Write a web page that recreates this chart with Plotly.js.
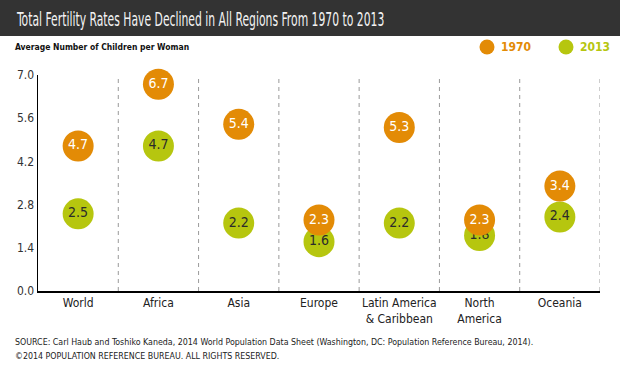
<!DOCTYPE html>
<html>
<head>
<meta charset="utf-8">
<script src="https://cdn.plot.ly/plotly-3.0.1.min.js"></script>
<style>
html,body{margin:0;padding:0;background:#fff;}
#chart{width:620px;height:370px;}
text, tspan {font-stretch:condensed;}
</style>
</head>
<body>
<div id="chart"></div>
<script>
const regions = ['World', 'Africa', 'Asia', 'Europe', 'Latin America<br>& Caribbean', 'North<br>America', 'Oceania'];
const tfr1970 = [4.7, 6.7, 5.4, 2.3, 5.3, 2.3, 3.4];
const tfr2013 = [2.5, 4.7, 2.2, 1.6, 2.2, 1.8, 2.4];
const yTicks = [0, 1.4, 2.8, 4.2, 5.6, 7.0];
const seriesNames = ['1970', '2013'];

const ORANGE = '#E38B06';
const GREEN = '#B6C60F';
const NARROW = '"DejaVu Sans", sans-serif';
const idx = regions.map((_, i) => i);

const trace2013 = {
  x: idx, y: tfr2013, mode: 'markers+text', type: 'scatter',
  marker: {size: 31, color: GREEN},
  text: tfr2013.map(v => v.toFixed(1)), textposition: 'middle center',
  textfont: {family: NARROW, size: 14, color: '#2b2b2b'},
  hoverinfo: 'none', showlegend: false, cliponaxis: false
};
const trace1970 = {
  x: idx, y: tfr1970, mode: 'markers+text', type: 'scatter',
  marker: {size: 31, color: ORANGE},
  text: tfr1970.map(v => v.toFixed(1)), textposition: 'middle center',
  textfont: {family: NARROW, size: 14, color: '#ffffff'},
  hoverinfo: 'none', showlegend: false, cliponaxis: false
};

const shapes = [];
// title bar
shapes.push({type: 'rect', xref: 'paper', yref: 'paper', xsizemode: 'pixel', ysizemode: 'pixel',
  xanchor: 0, yanchor: 1, x0: -45, x1: 600, y0: 39, y1: 85, fillcolor: '#333333', line: {width: 0}, layer: 'below'});
// dashed dividers
for (let i = 0; i < regions.length; i++) {
  shapes.push({type: 'line', xref: 'x', yref: 'y', x0: i + 0.5, x1: i + 0.5, y0: 0, y1: 7.0,
    line: {color: '#9a9a9a', width: 1, dash: '4px,4px'}, layer: 'below'});
}
// legend dots
const legendColors = [ORANGE, GREEN];
const legendX = [449, 528];
const annotations = [];
seriesNames.forEach((n, k) => {
  shapes.push({type: 'circle', xref: 'paper', yref: 'paper', xsizemode: 'pixel', ysizemode: 'pixel',
    xanchor: 0, yanchor: 1, x0: legendX[k] - 7.5, x1: legendX[k] + 7.5, y0: 28 - 7.5, y1: 28 + 7.5,
    fillcolor: legendColors[k], line: {width: 0}});
  annotations.push({xref: 'paper', yref: 'paper', x: 0, y: 1, xshift: legendX[k] + 12, yshift: 28,
    xanchor: 'left', yanchor: 'middle', showarrow: false, text: '<b>' + n + '</b>',
    font: {family: NARROW, size: 12, color: legendColors[k]}});
});
// subtitle
annotations.push({xref: 'paper', yref: 'paper', x: 0, y: 1, xshift: -25, yshift: 28,
  xanchor: 'left', yanchor: 'middle', showarrow: false,
  text: '<b>Average Number of Children per Woman</b>',
  font: {family: NARROW, size: 8.5, color: '#111'}});
// source lines
annotations.push({xref: 'paper', yref: 'paper', x: 0, y: 0, xshift: -25, yshift: -51,
  xanchor: 'left', yanchor: 'middle', showarrow: false,
  text: 'SOURCE: Carl Haub and Toshiko Kaneda, 2014 World Population Data Sheet (Washington, DC: Population Reference Bureau, 2014).',
  font: {family: NARROW, size: 8.8, color: '#222'}});
annotations.push({xref: 'paper', yref: 'paper', x: 0, y: 0, xshift: -25, yshift: -65,
  xanchor: 'left', yanchor: 'middle', showarrow: false,
  text: '©2014 POPULATION REFERENCE BUREAU. ALL RIGHTS RESERVED.',
  font: {family: NARROW, size: 8.8, color: '#222'}});

const layout = {
  width: 620, height: 370,
  margin: {l: 38, r: 20, t: 75, b: 79, pad: 0},
  paper_bgcolor: '#ffffff', plot_bgcolor: '#ffffff',
  title: {text: 'Total Fertility Rates Have Declined in All Regions From 1970 to 2013',
    x: 17 / 620, xanchor: 'left', xref: 'container', y: 1 - 19 / 370, yanchor: 'middle', yref: 'container',
    font: {family: NARROW, size: 20, color: '#f2f2f2'}},
  xaxis: {range: [-0.5, 6.5], tickvals: idx, ticktext: regions, showgrid: false, zeroline: false,
    showline: true, linecolor: '#000', linewidth: 1.5, ticks: '', fixedrange: true,
    tickfont: {family: NARROW, size: 12, color: '#222'}},
  yaxis: {range: [0, 7.0], tickvals: yTicks, ticktext: yTicks.map(v => v.toFixed(1)), showgrid: false,
    zeroline: false, showline: true, linecolor: '#000', linewidth: 1.5, ticks: '', fixedrange: true,
    tickfont: {family: NARROW, size: 12, color: '#333'}},
  shapes: shapes, annotations: annotations, showlegend: false
};

Plotly.newPlot('chart', [trace2013, trace1970], layout, {displayModeBar: false, staticPlot: true}).then(() => {
  const t = document.querySelector('.gtitle');
  if (t) {
    const w = t.getBBox().width;
    const sx = 368 / w;
    const x0 = parseFloat(t.getAttribute('x')) || 17;
    const prev = t.getAttribute('transform') || '';
    t.setAttribute('transform', prev + ' matrix(' + sx + ',0,0,1,' + (x0 * (1 - sx)) + ',0)');
  }
});
</script>
</body>
</html>
